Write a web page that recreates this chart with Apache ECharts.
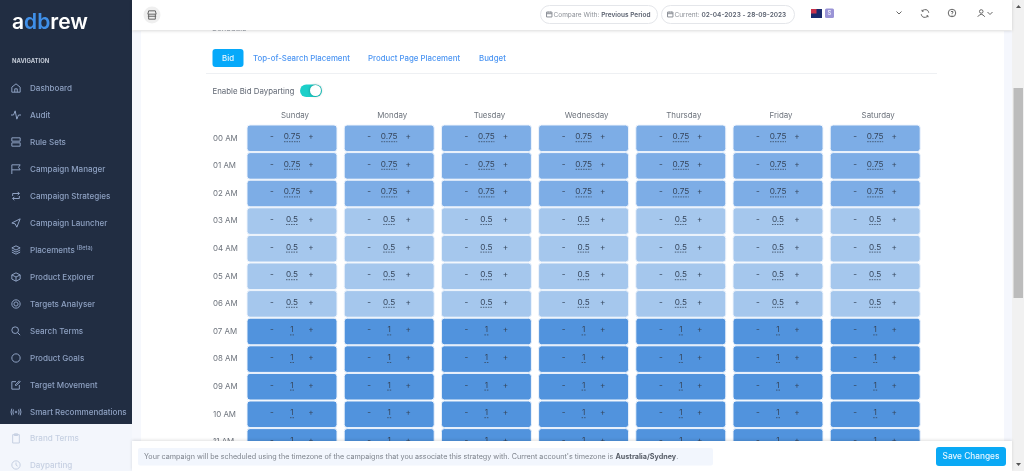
<!DOCTYPE html>
<html>
<head>
<meta charset="utf-8">
<title>Dayparting</title>
<style>
  html, body { margin: 0; padding: 0; background: #fff; }
  #chart { width: 1024px; height: 471px; }
</style>
<script src="https://cdn.jsdelivr.net/npm/echarts@6/dist/echarts.min.js"></script>
</head>
<body>
<div id="chart"></div>
<script>
const days = ['Sunday', 'Monday', 'Tuesday', 'Wednesday', 'Thursday', 'Friday', 'Saturday']
const hours = ['00 AM', '01 AM', '02 AM', '03 AM', '04 AM', '05 AM', '06 AM', '07 AM', '08 AM', '09 AM', '10 AM', '11 AM']
// bid multiplier per hour, every weekday has the same schedule in the picture
const sundayBids = [0.75, 0.75, 0.75, 0.5, 0.5, 0.5, 0.5, 1, 1, 1, 1, 1]
const mondayBids = [0.75, 0.75, 0.75, 0.5, 0.5, 0.5, 0.5, 1, 1, 1, 1, 1]
const tuesdayBids = [0.75, 0.75, 0.75, 0.5, 0.5, 0.5, 0.5, 1, 1, 1, 1, 1]
const wednesdayBids = [0.75, 0.75, 0.75, 0.5, 0.5, 0.5, 0.5, 1, 1, 1, 1, 1]
const thursdayBids = [0.75, 0.75, 0.75, 0.5, 0.5, 0.5, 0.5, 1, 1, 1, 1, 1]
const fridayBids = [0.75, 0.75, 0.75, 0.5, 0.5, 0.5, 0.5, 1, 1, 1, 1, 1]
const saturdayBids = [0.75, 0.75, 0.75, 0.5, 0.5, 0.5, 0.5, 1, 1, 1, 1, 1]
const bidsByDay = [sundayBids, mondayBids, tuesdayBids, wednesdayBids, thursdayBids, fridayBids, saturdayBids]
const bidColors = { 0.5: '#a5c7ed', 0.75: '#7dade6', 1: '#5193dd' }

const navDark = [
  ['Dashboard', 88], ['Audit', 115], ['Rule Sets', 142], ['Campaign Manager', 169],
  ['Campaign Strategies', 196], ['Campaign Launcher', 223], ['Placements', 250],
  ['Product Explorer', 277], ['Targets Analyser', 304], ['Search Terms', 331],
  ['Product Goals', 358], ['Target Movement', 385], ['Smart Recommendations', 412]
]
const navLight = [['Brand Terms', 438], ['Dayparting', 465]]
const tabs = [['Top-of-Search Placement', 253], ['Product Page Placement', 368], ['Budget', 479]]

const FONT = 'Inter'
const TOP = 100

const cells = []
bidsByDay.forEach((list, d) => list.forEach((v, h) => cells.push([d, h, v])))

const ICONS = {
  home: 'M1 11V5L6 1L11 5V11ZM4.500 11V7H7.500V11',
  pulse: 'M0 6H3L5 1L7 11L9 6H12',
  stack: 'M1 1H11V5H1ZM1 7H11V11H1Z',
  flag: 'M1 12V1H11L9 4L11 7H1',
  swap: 'M2 6V3H10M8 1L10 3L8 5M10 6V9H2M4 7L2 9L4 11',
  send: 'M11 1L1 6L5 7L7 11Z',
  layers: 'M6 1L11 3.500L6 6L1 3.500ZM1 6L6 8.500L11 6M1 8.500L6 11L11 8.500',
  box: 'M6 1L11 3.500V8.500L6 11L1 8.500V3.500ZM1 3.500L6 6L11 3.500M6 6V11',
  target: 'M6 1A5 5 0 1 1 5.990 1ZM6 3.500A2.500 2.500 0 1 1 5.990 3.500Z',
  search: 'M5 1A4 4 0 1 1 4.990 1ZM8 8L11 11',
  circle: 'M6 1A5 5 0 1 1 5.990 1Z',
  edit: 'M10 6V11H1V2H6M5 6L10 1L11 2L6 7Z',
  wave: 'M6 5A1 1 0 1 1 5.990 5ZM3 3Q1.500 6 3 9M9 3Q10.500 6 9 9M1 2Q-1 6 1 10M11 2Q13 6 11 10',
  clipboard: 'M2 2H10V12H2ZM4 1H8V3H4Z',
  clock: 'M6 1A5 5 0 1 1 5.990 1ZM6 3V6L8 7.500',
  store: 'M1 5L2 1H10L11 5ZM2 5V11H10V5M1 7.500H11',
  calendar: 'M1 2H11V11H1ZM1 5H11M4 1V3M8 1V3',
  chevron: 'M1 1L6 6L11 1',
  refresh: 'M11 5A5 5 0 0 0 2 3M1 7A5 5 0 0 0 10 9M2 1V3H4M10 11V9H8',
  help: 'M6 1A5 5 0 1 1 5.990 1ZM4.500 4.500Q6 2.500 7.500 4.500Q7.500 5.500 6 6.500V7.500M6 8.500V9.500',
  user: 'M6 1A2.500 2.500 0 1 1 5.990 1ZM1 11Q6 4 11 11'
}
// graphic elements only know registered shapes, so each icon gets its own class
Object.keys(ICONS).forEach(name => {
  echarts.graphic.registerShape('icon-' + name, echarts.graphic.extendPath(ICONS[name], {}))
})
const navIcons = ['home', 'pulse', 'stack', 'flag', 'swap', 'send', 'layers', 'box', 'target', 'search', 'circle', 'edit', 'wave']
const lightIcons = ['clipboard', 'clock']

function rect (x, y, w, h, fill, extra) {
  return Object.assign({ type: 'rect', z: TOP, shape: { x, y, width: w, height: h, r: (extra && extra.r) || 0 }, style: { fill } }, extra && extra.props)
}
function label (text, x, y, size, fill, more) {
  return { type: 'text', z: TOP + 2, x, y: y + 0.600, style: Object.assign({ text, font: `${(more && more.weight) || 400} ${size}px ${FONT}`, fill, textVerticalAlign: 'middle', textAlign: (more && more.align) || 'left' }, more && more.style) }
}
function icon (name, x, y, size, color) {
  const s = size / 12
  return { type: 'icon-' + name, z: TOP + 2, x, y, scaleX: s, scaleY: s, style: { fill: 'none', stroke: color, lineWidth: 1 / s } }
}

const chrome = []
// page frame around the white card
chrome.push(rect(132, 31, 9, 440, '#f6f8fd'))
chrome.push(rect(1004, 31, 8, 440, '#f5f7fd'))
chrome.push(rect(1012, 0, 12, 471, '#f1f1f1'))
chrome.push(rect(1013.500, 88, 9.500, 210, '#bcbcbc'))
chrome.push({ type: 'polygon', z: TOP + 2, shape: { points: [[1018.500, 5], [1016, 8], [1021, 8]] }, style: { fill: '#555' } })
chrome.push({ type: 'polygon', z: TOP + 2, shape: { points: [[1018.500, 466], [1016, 463], [1021, 463]] }, style: { fill: '#555' } })

// sidebar
chrome.push(rect(0, 424, 132, 47, '#f3f6fc'))
chrome.push(rect(0, 0, 132, 424, '#212d42'))
chrome.push(label('', 12, 22, 21, '#fff', {
  style: {
    text: '{w|a}{c|db}{w|rew}',
    rich: {
      w: { fill: '#fff', font: `600 21px ${FONT}` },
      c: { fill: '#3f8fe8', font: `600 21px ${FONT}` }
    }
  }
}))
chrome.push(label('NAVIGATION', 12, 61, 5.900, '#c3cad6', { weight: 700 }))
navDark.forEach((item, i) => {
  if (item[0] === 'Placements') {
    chrome.push(label('Placements', 30, item[1], 8.050, '#8ea1c2', { weight: 500 }))
    chrome.push(label('(Beta)', 76.500, item[1] - 2.500, 5.600, '#8ea1c2', { weight: 500 }))
  } else {
    chrome.push(label(item[0], 30, item[1], 8.050, '#8ea1c2', { weight: 500 }))
  }
  chrome.push(icon(navIcons[i], 11, item[1] - 5, 10, '#8ea1c2'))
})
navLight.forEach((item, i) => {
  chrome.push(label(item[0], 30, item[1], 8.050, '#c6d0e2', { weight: 500 }))
  chrome.push(icon(lightIcons[i], 11, item[1] - 5, 10, '#c6d0e2'))
})

// top bar, hides the scrolled heading
chrome.push(rect(132, 0, 880, 30, '#fff', { props: { style: { fill: '#fff', shadowBlur: 3, shadowColor: 'rgba(0,0,0,0.15)', shadowOffsetY: 1 } } }))
chrome.push({ type: 'circle', z: TOP + 1, shape: { cx: 152, cy: 15, r: 8.500 }, style: { fill: '#efefef' } })
chrome.push(icon('store', 147, 10, 10, '#666'))
chrome.push(rect(540.500, 5.500, 117, 18, '#fff', { r: 9, props: { z: TOP + 1, style: { fill: '#fff', stroke: '#e4e6ea', lineWidth: 1 } } }))
chrome.push(rect(661.500, 5.500, 133, 18, '#fff', { r: 9, props: { z: TOP + 1, style: { fill: '#fff', stroke: '#e4e6ea', lineWidth: 1 } } }))
chrome.push(icon('calendar', 546, 11, 6.500, '#8b8f96'))
chrome.push(icon('calendar', 667, 11, 6.500, '#8b8f96'))
const pillRich = {
  n: { fill: '#8b8f96', font: `400 6.500px ${FONT}` },
  b: { fill: '#5b6270', font: `600 6.500px ${FONT}` }
}
chrome.push(label('', 553.500, 14, 6.500, '#8b8f96', { style: { text: '{n|Compare With: }{b|Previous Period}', rich: pillRich } }))
chrome.push(label('', 674.500, 14, 6.500, '#8b8f96', { style: { text: '{n|Current: }{b|02-04-2023 - 28-09-2023}', rich: pillRich } }))
chrome.push(rect(811, 9, 11, 9, '#1a2a6c', { props: { z: TOP + 1 } }))
chrome.push(rect(811, 9, 5.500, 4.500, '#c8324b', { props: { z: TOP + 2 } }))
chrome.push(rect(825, 8.500, 9, 9.500, '#9a94d6', { r: 1.500, props: { z: TOP + 1 } }))
chrome.push(label('S', 829.500, 13, 6, '#e9e8f8', { align: 'center', weight: 600 }))
chrome.push(icon('chevron', 896, 11, 6, '#666'))
chrome.push(icon('refresh', 920.500, 9, 9, '#666'))
chrome.push(icon('help', 947.500, 8.500, 9, '#666'))
chrome.push(icon('user', 977, 9, 8.500, '#666'))
chrome.push(icon('chevron', 987, 11.500, 6, '#666'))

// tabs and toggle
chrome.push(rect(212.500, 49, 31, 18, '#06a9fa', { r: 3 }))
chrome.push(label('Bid', 228, 58, 7.850, '#e8f6ff', { align: 'center', weight: 500 }))
tabs.forEach(t => chrome.push(label(t[0], t[1], 58, 7.850, '#4a94f2', { weight: 500 })))
chrome.push(rect(206, 73, 731, 1, '#eef0f3'))
chrome.push(label('Enable Bid Dayparting', 212.500, 91, 7.850, '#5f6672'))
chrome.push(rect(300, 84.500, 22, 12.500, '#1ccfc9', { r: 6.250 }))
chrome.push({ type: 'circle', z: TOP + 2, shape: { cx: 315.500, cy: 90.500, r: 5.500 }, style: { fill: '#fff', shadowBlur: 3, shadowColor: 'rgba(0,0,0,0.35)' } })

// save bar
chrome.push(rect(132, 441, 880, 30, '#fff', { props: { style: { fill: '#fff', shadowBlur: 3, shadowColor: 'rgba(0,0,0,0.12)', shadowOffsetY: -1 } } }))
chrome.push(rect(138, 448, 575, 17.500, '#f2f6fd', { r: 2, props: { z: TOP + 1 } }))
chrome.push(label('', 144, 456, 7.200, '#7d838c', {
  style: {
    text: '{n|Your campaign will be scheduled using the timezone of the campaigns that you associate this strategy with. Current account\'s timezone is }{b|Australia/Sydney}{n|.}',
    rich: {
      n: { fill: '#7d838c', font: `400 7.200px ${FONT}` },
      b: { fill: '#585e68', font: `700 7.200px ${FONT}` }
    }
  }
}))
chrome.push(rect(936, 447, 70, 19, '#0aa9f5', { r: 3, props: { z: TOP + 1 } }))
chrome.push(label('Save Changes', 971, 456, 8.300, '#e8f6ff', { align: 'center', weight: 500 }))

// heading scrolled under the top bar, only its lower edge shows
const heading = label('Schedule', 212, 28, 7.850, '#9aa0a8')
heading.z = TOP - 1
chrome.push(heading)

function renderCell (params, api) {
  const d = api.value(0)
  const h = api.value(1)
  const v = api.value(2)
  const c = api.coord([d, h])
  const band = api.size([1, 1])
  const w = band[0] - 7.200
  const ht = band[1] - 1
  const text = String(v)
  const lineW = text.length * 4
  const ink = '#36465c'
  const textStyle = { fill: ink, font: `400 8.200px ${FONT}`, textAlign: 'center', textVerticalAlign: 'middle' }
  return {
    type: 'group',
    children: [
      {
        type: 'rect',
        shape: { x: c[0] - w / 2, y: c[1] - ht / 2, width: w, height: ht, r: 3 },
        style: { fill: bidColors[v], stroke: '#eef4fc', lineWidth: 1 }
      },
      { type: 'text', x: c[0] - 20, y: c[1] - 1.500, style: Object.assign({}, textStyle, { text: '-' }) },
      { type: 'text', x: c[0], y: c[1] - 1.500, style: Object.assign({}, textStyle, { text }) },
      { type: 'text', x: c[0] + 19, y: c[1] - 1.500, style: Object.assign({}, textStyle, { text: '+' }) },
      {
        type: 'line',
        shape: { x1: c[0] - lineW / 2, y1: c[1] + 3.400, x2: c[0] + lineW / 2, y2: c[1] + 3.400 },
        style: { stroke: ink, lineWidth: 0.800, lineDash: [1.500, 1] }
      }
    ]
  }
}

const chart = echarts.init(document.getElementById('chart'))
chart.setOption({
  animation: false,
  backgroundColor: '#fff',
  grid: { left: 243.400, top: 124.500, width: 680.400, height: 331.200 },
  xAxis: {
    type: 'category',
    position: 'top',
    data: days,
    axisLine: { show: false },
    axisTick: { show: false },
    axisLabel: { color: '#6d737c', fontFamily: FONT, fontSize: 7.900, margin: 5, interval: 0, padding: [0, 0, 0, 6] }
  },
  yAxis: {
    type: 'category',
    inverse: true,
    data: hours,
    axisLine: { show: false },
    axisTick: { show: false },
    axisLabel: { color: '#6d737c', fontFamily: FONT, fontSize: 7.900, align: 'left', margin: 30.400, interval: 0 }
  },
  series: [{
    type: 'custom',
    renderItem: renderCell,
    clip: false,
    silent: true,
    encode: { x: 0, y: 1 },
    data: cells
  }],
  graphic: { elements: chrome }
})
</script>
</body>
</html>
